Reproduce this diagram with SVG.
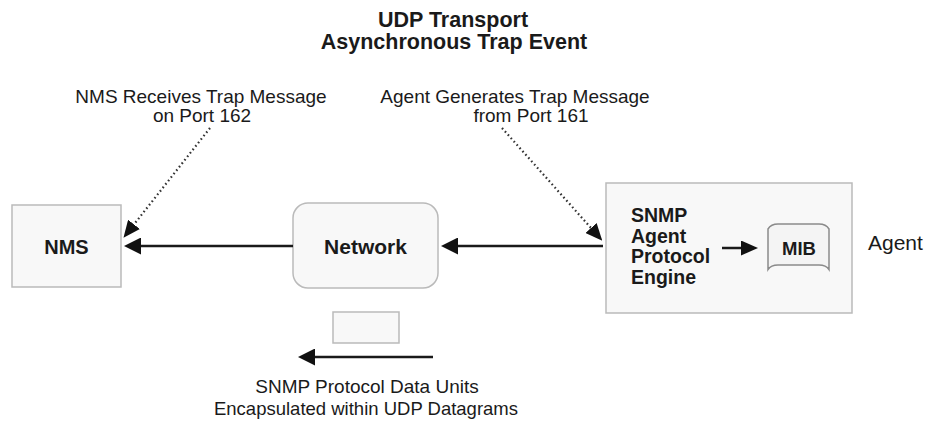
<svg xmlns="http://www.w3.org/2000/svg" width="931" height="421" viewBox="0 0 931 421">
<style>
text{font-family:"Liberation Sans",Arial,sans-serif;fill:#1a1a1a}
.b{font-weight:bold}
.box{fill:#f8f8f8;stroke:#bababa;stroke-width:1.5}
.ln{stroke:#1a1a1a;stroke-width:2.5;fill:none}
.dot{stroke:#333;stroke-width:2.2;fill:none;stroke-dasharray:1.6 2.8}
</style>
<defs>
<marker id="ah" viewBox="0 -8.5 17 17" refX="0" refY="0" markerWidth="17" markerHeight="17" markerUnits="userSpaceOnUse" orient="auto">
<path d="M0,-8.5 L17,0 L0,8.5 Z" fill="#111"/>
</marker>
<marker id="ahs" viewBox="0 -7.5 17 15" refX="0" refY="0" markerWidth="17" markerHeight="15" markerUnits="userSpaceOnUse" orient="auto">
<path d="M0,-7.5 L17,0 L0,7.5 Z" fill="#111"/>
</marker>
</defs>
<rect width="931" height="421" fill="#fff"/>
<g id="title">
<text class="b" x="453" y="27" font-size="21.5" text-anchor="middle">UDP Transport</text>
<text class="b" x="454" y="49" font-size="21.5" text-anchor="middle">Asynchronous Trap Event</text>
</g>
<g id="label-nms-receives">
<text x="201" y="103" font-size="19" text-anchor="middle">NMS Receives Trap Message</text>
<text x="202" y="122" font-size="19" text-anchor="middle">on Port 162</text>
</g>
<g id="label-agent-generates">
<text x="515" y="103" font-size="19" text-anchor="middle">Agent Generates Trap Message</text>
<text x="531" y="122" font-size="19" text-anchor="middle">from Port 161</text>
</g>
<g id="nms">
<rect class="box" x="12" y="205" width="109" height="82"/>
<text class="b" x="66.5" y="254" font-size="20" text-anchor="middle">NMS</text>
</g>
<g id="network">
<rect class="box" x="293" y="203" width="145" height="85" rx="15"/>
<text class="b" x="365.5" y="254" font-size="21" text-anchor="middle">Network</text>
</g>
<g id="agent">
<rect class="box" x="606" y="183" width="246" height="130"/>
<text class="b" x="631" y="222" font-size="19.5">SNMP</text>
<text class="b" x="631" y="242.7" font-size="19.5">Agent</text>
<text class="b" x="631" y="263.3" font-size="19.5">Protocol</text>
<text class="b" x="631" y="284" font-size="19.5">Engine</text>
</g>
<g id="mib">
<path d="M768,229 Q771,224 778,224 L819,224 Q826,224 829,229 L829,269.5 Q826,265 819,265 L778,265 Q771,265 768,269.5 Z" fill="#f4f4f4" stroke="#8a8a8a" stroke-width="1.5"/>
<text class="b" x="799" y="255" font-size="18.5" text-anchor="middle">MIB</text>
</g>
<g id="agent-label">
<text x="868" y="250" font-size="21">Agent</text>
</g>
<g id="pdu">
<rect class="box" x="333" y="312" width="66" height="31"/>
</g>
<g id="pdu-label">
<text x="367" y="393" font-size="19" text-anchor="middle">SNMP Protocol Data Units</text>
<text x="366" y="415" font-size="18.5" text-anchor="middle">Encapsulated within UDP Datagrams</text>
</g>
<g id="connectors">
<line class="ln" x1="293" y1="246" x2="141" y2="246" marker-end="url(#ah)"/>
<line class="ln" x1="603" y1="246" x2="458" y2="246" marker-end="url(#ah)"/>
<line class="ln" x1="433" y1="357" x2="315" y2="357" marker-end="url(#ah)"/>
<line class="ln" x1="722" y1="248" x2="741" y2="248" marker-end="url(#ahs)"/>
<line class="dot" x1="210" y1="128" x2="134" y2="224.4" marker-end="url(#ahs)"/>
<line class="dot" x1="502" y1="128" x2="591" y2="228" marker-end="url(#ahs)"/>
</g>
</svg>
